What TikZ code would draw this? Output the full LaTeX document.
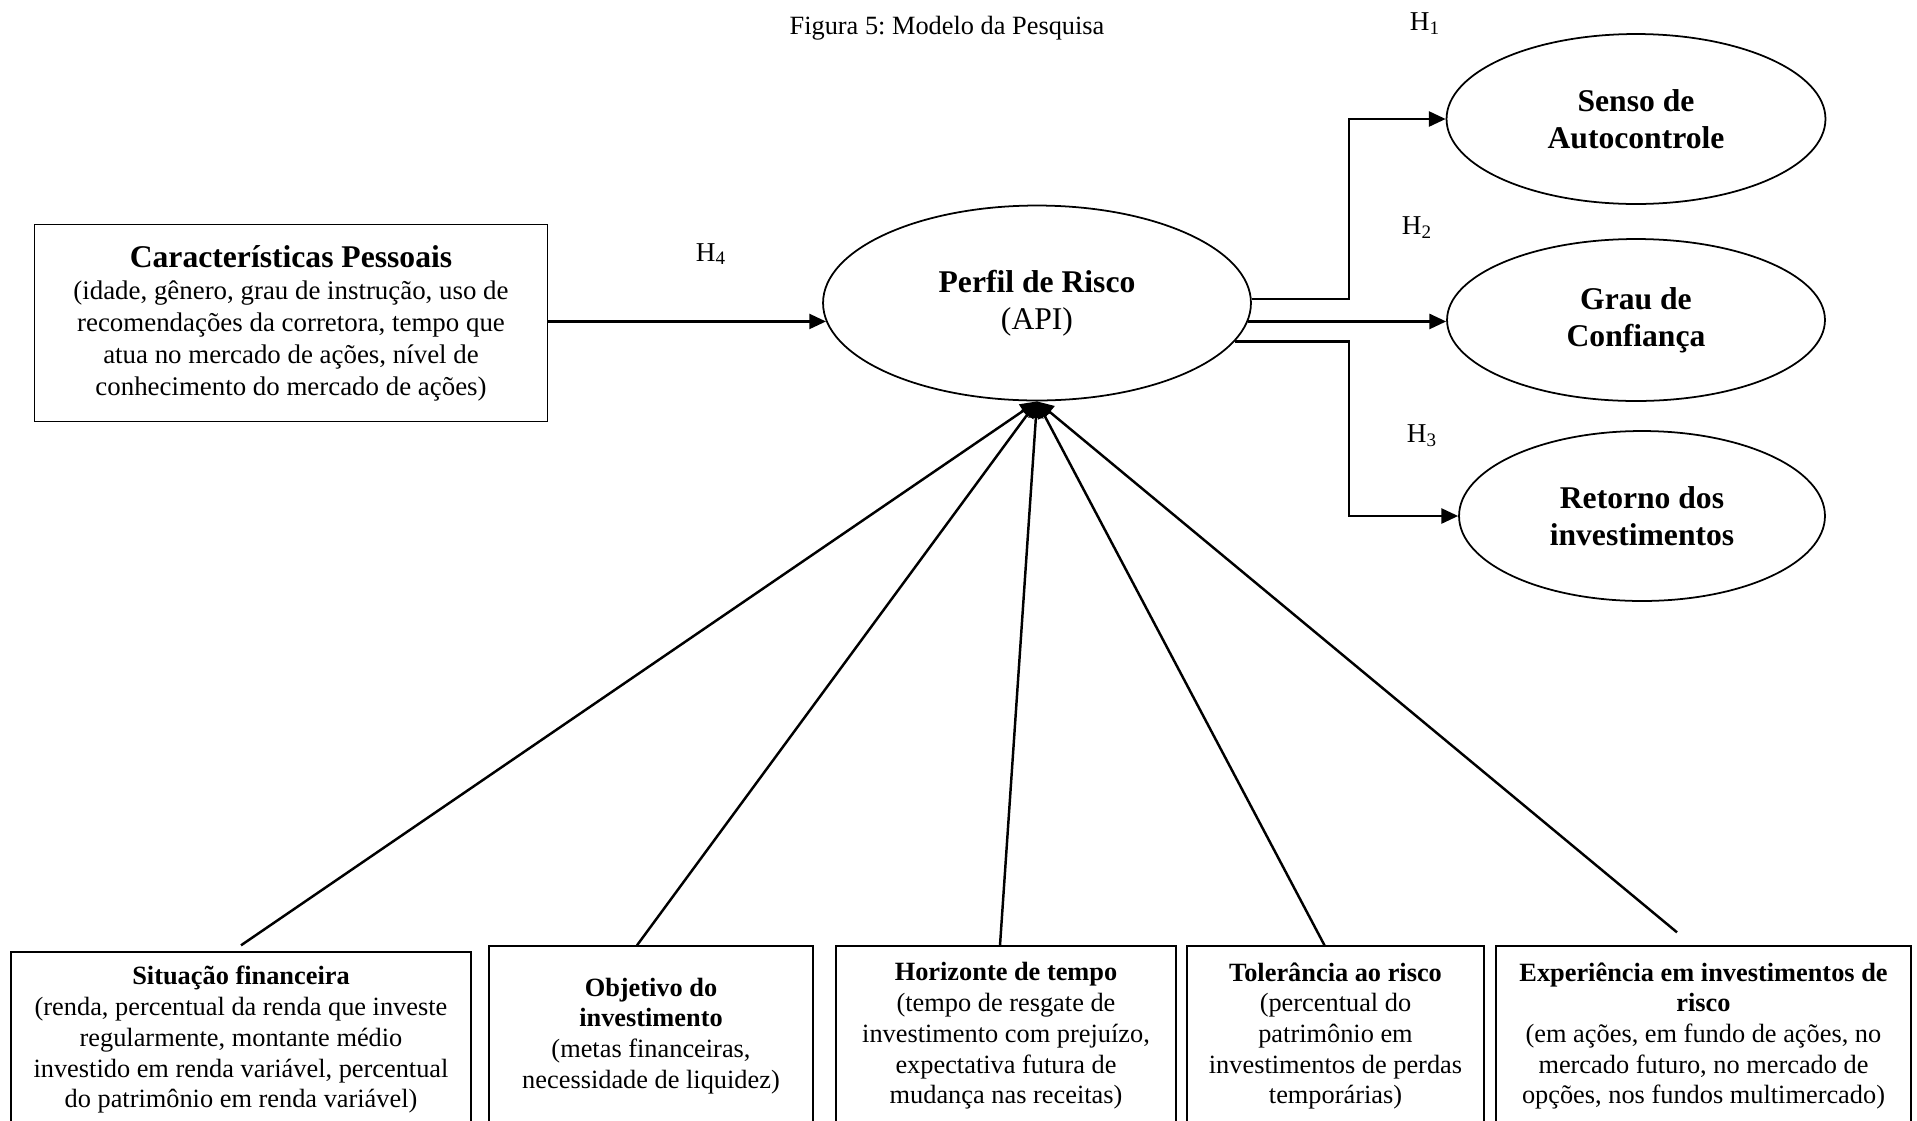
\documentclass[tikz,border=0pt]{standalone}
\usepackage{fontspec}
\setmainfont{Liberation Serif}
\frenchspacing
\usetikzlibrary{shapes.geometric, arrows.meta}
\usetikzlibrary{positioning}

\begin{document}
\begin{tikzpicture}[x=0.02cm,y=-0.02cm]

   %Styles of ellipses, boxes and arrows
   \tikzstyle{construct} = [ellipse, draw=black, line width=1pt, inner sep=0pt, align=center, font=\fontsize{18}{21}\selectfont]
   \tikzstyle{factorbox} = [rectangle, draw=black, line width=0.8pt, inner sep=0pt, align=center, font=\fontsize{15}{17.5}\selectfont]
   \tikzstyle{hyp} = [font=\fontsize{15.5}{18}\selectfont]
   \tikzstyle{arrow} = [line width=1.4pt,->,>={Triangle[length=9.5pt,width=8.5pt]}]

   %Grid to help with drawing (comment out for final figure)
   %\draw[help lines, step=50] (0,0) grid (1917,1120);

   \useasboundingbox (0,0) rectangle (1917,1120);
   \clip (0,0) rectangle (1917,1120);

   %Title and hypotheses
   \node[font=\fontsize{15}{18}\selectfont] (title) at (947,28) {Figura 5: Modelo da Pesquisa};
   \node[hyp] (h1) at (1425,24) {H\textsubscript{1}};
   \node[hyp] (h2) at (1417,228) {H\textsubscript{2}};
   \node[hyp] (h3) at (1422,436) {H\textsubscript{3}};
   \node[hyp] (h4) at (711,254) {H\textsubscript{4}};

   %Ellipses
   \node[construct, minimum width=8.56cm, minimum height=3.9cm] (perfil) at (1037,303) {\textbf{Perfil de Risco}\\(API)};
   \node[construct, minimum width=7.58cm, minimum height=3.4cm] (senso) at (1636,119) {\textbf{Senso de}\\\textbf{Autocontrole}};
   \node[construct, minimum width=7.56cm, minimum height=3.24cm] (grau) at (1636,320) {\textbf{Grau de}\\\textbf{Confiança}};
   \node[construct, minimum width=7.32cm, minimum height=3.4cm] (retorno) at (1642,516) {\textbf{Retorno dos}\\\textbf{investimentos}};

   %Boxes
   \node[factorbox, minimum width=10.26cm, minimum height=3.94cm, font=\fontsize{15.3}{18.2}\selectfont] (caract) at (291,323)
      {{\fontsize{18}{21}\selectfont\textbf{Características Pessoais}}\\(idade, gênero, grau de instrução, uso de\\recomendações da corretora, tempo que\\atua no mercado de ações, nível de\\conhecimento do mercado de ações)};
   \node[factorbox, minimum width=9.2cm, minimum height=3.52cm] (situacao) at (241,1040)
      {\textbf{Situação financeira}\\(renda, percentual da renda que investe\\regularmente, montante médio\\investido em renda variável, percentual\\do patrimônio em renda variável)};
   \node[factorbox, minimum width=6.48cm, minimum height=3.6cm] (objetivo) at (651,1036)
      {\textbf{Objetivo do}\\\textbf{investimento}\\(metas financeiras,\\necessidade de liquidez)};
   \node[factorbox, minimum width=6.8cm, minimum height=3.6cm] (horizonte) at (1006,1036)
      {\textbf{Horizonte de tempo}\\(tempo de resgate de\\investimento com prejuízo,\\expectativa futura de\\mudança nas receitas)};
   \node[factorbox, minimum width=5.94cm, minimum height=3.6cm] (tolerancia) at (1335.5,1036)
      {\textbf{Tolerância ao risco}\\(percentual do\\patrimônio em\\investimentos de perdas\\temporárias)};
   \node[factorbox, minimum width=8.3cm, minimum height=3.6cm] (experiencia) at (1703.5,1036)
      {\textbf{Experiência em investimentos de}\\\textbf{risco}\\(em ações, em fundo de ações, no\\mercado futuro, no mercado de\\opções, nos fundos multimercado)};

   %Arrows
   \coordinate (split) at (1349,303);
   \draw[arrow] (caract.east |- perfil.185) -- (perfil.185);
   \draw[arrow] (perfil.1) -| (split |- senso.west) -- (senso.west);
   \draw[arrow] (perfil.-5) -- (perfil.-5 -| grau.west);
   \draw[arrow] (perfil.-11) -| (split |- retorno.west) -- (retorno.west);

   \draw[arrow] ([yshift=0.12cm]situacao.north) -- (perfil.south);
   \draw[arrow] ([xshift=-0.28cm]objetivo.north) -- (perfil.south);
   \draw[arrow] ([xshift=-0.12cm]horizonte.north) -- (perfil.south);
   \draw[arrow] ([xshift=-0.22cm]tolerancia.north) -- (perfil.south);
   \draw[arrow] ([xshift=-0.53cm,yshift=0.26cm]experiencia.north) -- (perfil.south);

\end{tikzpicture}
\end{document}
